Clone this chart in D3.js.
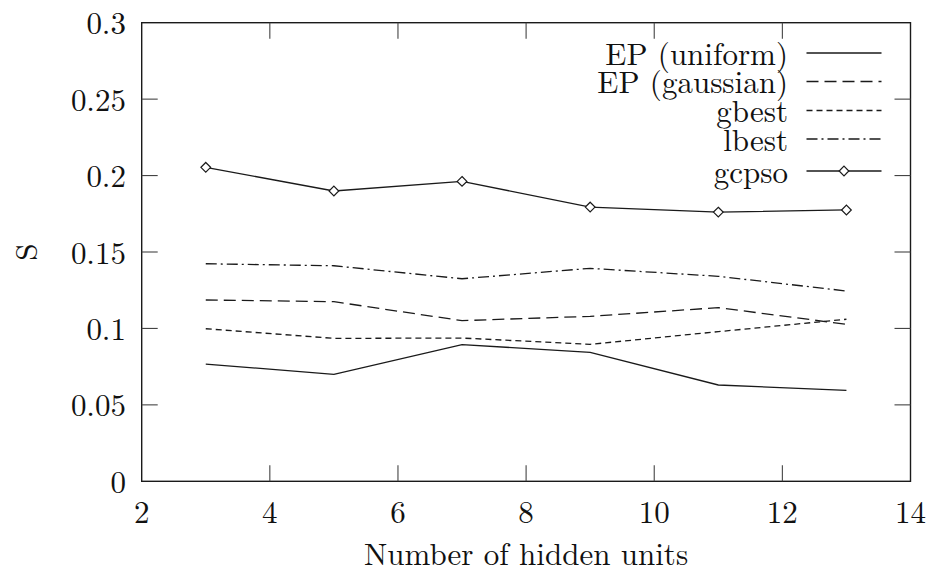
<!DOCTYPE html>
<html>
<head>
<meta charset="utf-8">
<script src="https://cdn.jsdelivr.net/npm/d3@7"></script>
<style>
  html, body { margin: 0; padding: 0; background: #fff; }
</style>
</head>
<body>
<svg id="chart" width="935" height="571"></svg>
<script>
// Hidden-unit counts on the x axis
const hiddenUnits = [3, 5, 7, 9, 11, 13];

// S values per training algorithm
const epUniform  = [0.0767, 0.0700, 0.0894, 0.0844, 0.0630, 0.0595];
const epGaussian = [0.1186, 0.1175, 0.1051, 0.1079, 0.1136, 0.1027];
const gbest      = [0.0998, 0.0935, 0.0937, 0.0896, 0.0979, 0.1060];
const lbest      = [0.1423, 0.1410, 0.1325, 0.1393, 0.1341, 0.1245];
const gcpso      = [0.2054, 0.1899, 0.1962, 0.1794, 0.1761, 0.1775];

const xTicks = [2, 4, 6, 8, 10, 12, 14];
const yTicks = [0, 0.05, 0.1, 0.15, 0.2, 0.25, 0.3];
const yTickLabels = ["0", "0.05", "0.1", "0.15", "0.2", "0.25", "0.3"];

const seriesNames = ["EP (uniform)", "EP (gaussian)", "gbest", "lbest", "gcpso"];

const series = [
  { name: seriesNames[0], values: epUniform,  dash: null,        marker: false },
  { name: seriesNames[1], values: epGaussian, dash: "12,6",      marker: false },
  { name: seriesNames[2], values: gbest,      dash: "6,4",       marker: false },
  { name: seriesNames[3], values: lbest,      dash: "11,4,2,4",  marker: false },
  { name: seriesNames[4], values: gcpso,      dash: null,        marker: true  }
];

const FONT = '"Latin Modern Roman", "Liberation Serif", serif';
const FS = "31px";

const svg = d3.select("#chart");
const plotL = 141.7, plotR = 910.5, plotT = 22.7, plotB = 481.3;

const x = d3.scaleLinear().domain([2, 14]).range([plotL, plotR]);
const y = d3.scaleLinear().domain([0, 0.3]).range([plotB, plotT]);

const ink = "#1a1a1a";
const textInk = "#111";
const tickLen = 16;

function label(sel) {
  return sel.style("font-family", FONT).style("font-size", FS).attr("fill", textInk);
}

// Frame
svg.append("rect")
  .attr("x", plotL).attr("y", plotT)
  .attr("width", plotR - plotL).attr("height", plotB - plotT)
  .attr("fill", "none").attr("stroke", ink).attr("stroke-width", 1.4);

// Inward ticks, mirrored on all four sides
const ax = svg.append("g");
const tickStroke = "#444";
ax.selectAll(".xb").data(xTicks.slice(1, -1)).join("line")
  .attr("x1", d => x(d)).attr("x2", d => x(d))
  .attr("y1", plotB).attr("y2", plotB - tickLen)
  .attr("stroke", tickStroke).attr("stroke-width", 1.1);
ax.selectAll(".xt").data(xTicks.slice(1, -1)).join("line")
  .attr("x1", d => x(d)).attr("x2", d => x(d))
  .attr("y1", plotT).attr("y2", plotT + tickLen)
  .attr("stroke", tickStroke).attr("stroke-width", 1.1);
ax.selectAll(".yl").data(yTicks.slice(1, -1)).join("line")
  .attr("x1", plotL).attr("x2", plotL + tickLen)
  .attr("y1", d => y(d)).attr("y2", d => y(d))
  .attr("stroke", tickStroke).attr("stroke-width", 1.1);
ax.selectAll(".yr").data(yTicks.slice(1, -1)).join("line")
  .attr("x1", plotR).attr("x2", plotR - tickLen)
  .attr("y1", d => y(d)).attr("y2", d => y(d))
  .attr("stroke", tickStroke).attr("stroke-width", 1.1);

// Tick labels
ax.selectAll(".xlab").data(xTicks).join("text")
  .attr("x", d => x(d)).attr("y", 523)
  .attr("text-anchor", "middle")
  .call(label)
  .text(d => d);
ax.selectAll(".ylab").data(yTicks).join("text")
  .attr("x", 126).attr("y", d => y(d) + 11.5)
  .attr("text-anchor", "end")
  .call(label)
  .text((d, i) => yTickLabels[i]);

// Axis titles
svg.append("text")
  .attr("x", (plotL + plotR) / 2).attr("y", 565)
  .attr("text-anchor", "middle")
  .call(label)
  .text("Number of hidden units");
svg.append("text")
  .attr("transform", `translate(37,${(plotT + plotB) / 2}) rotate(-90)`)
  .attr("text-anchor", "middle")
  .call(label)
  .text("S");

// Series lines
const line = d3.line().x((d, i) => x(hiddenUnits[i])).y(d => y(d));
const diamond = d3.symbol().type(d3.symbolDiamond2).size(60);

series.forEach(s => {
  svg.append("path")
    .attr("d", line(s.values))
    .attr("fill", "none").attr("stroke", ink).attr("stroke-width", 1.3)
    .attr("stroke-dasharray", s.dash);
  if (s.marker) {
    svg.selectAll(null).data(s.values).join("path")
      .attr("transform", (d, i) => `translate(${x(hiddenUnits[i])},${y(d)})`)
      .attr("d", diamond)
      .attr("fill", "#fff").attr("stroke", ink).attr("stroke-width", 1.2);
  }
});

// Legend
const legendRowY = [53, 81.5, 110.5, 139, 171];
const legendTextRight = 788, lx1 = 806.5, lx2 = 881.5;
series.forEach((s, i) => {
  const ly = legendRowY[i];
  svg.append("text")
    .attr("x", legendTextRight).attr("y", ly + 11.5)
    .attr("text-anchor", "end")
    .call(label)
    .text(s.name);
  svg.append("line")
    .attr("x1", lx1).attr("x2", lx2).attr("y1", ly).attr("y2", ly)
    .attr("stroke", ink).attr("stroke-width", 1.3)
    .attr("stroke-dasharray", s.dash);
  if (s.marker) {
    svg.append("path")
      .attr("transform", `translate(${(lx1 + lx2) / 2},${ly})`)
      .attr("d", diamond)
      .attr("fill", "#fff").attr("stroke", ink).attr("stroke-width", 1.2);
  }
});
</script>
</body>
</html>
